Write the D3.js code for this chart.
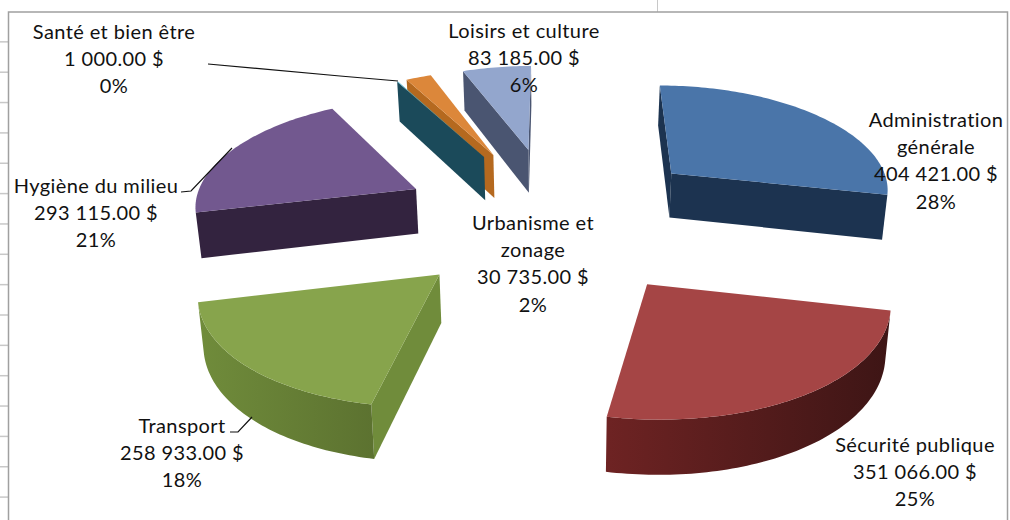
<!DOCTYPE html>
<html>
<head>
<meta charset="utf-8">
<script src="https://cdn.jsdelivr.net/npm/d3@7"></script>
<style>
  html, body { margin: 0; padding: 0; background: #fff; overflow: hidden; }
  text { font-family: Lato, "Open Sans", sans-serif; fill: #111; }
</style>
</head>
<body>
<div id="chart"></div>
<script>
// Data
const categories = ["Administration générale", "Sécurité publique", "Transport", "Hygiène du milieu", "Santé et bien être", "Urbanisme et zonage", "Loisirs et culture"];
const amounts = [404421, 351066, 258933, 293115, 1000, 30735, 83185];

// Colours, same order as categories
const topColors = ["#4a75a9", "#a54545", "#87a44c", "#72588f", "#4bacc6", "#dc873a", "#93a6cd"];
const wallColors = [["#1c3350", "#1c3350"], ["#6e2323", "#3d1515"], ["#708c3b", "#5c7230"], ["#33233f", "#33233f"], ["#1b4a5a", "#1b4a5a"], ["#b5691f", "#b5691f"], ["#4a5571", "#4a5571"]];
const sideColors = ["#1c3350", "#5a1d1d", "#708c3b", "#33233f", "#1b4a5a", "#b5691f", "#4a5571"];

// Label layout, same order as categories: wrapped name, centre x, first baseline
const labelLines = [["Administration", "générale"], ["Sécurité publique"], ["Transport"], ["Hygiène du milieu"], ["Santé et bien être"], ["Urbanisme et", "zonage"], ["Loisirs et culture"]];
const labelX = [936, 915, 182, 96, 114, 533, 524];
const labelY = [127, 452, 433, 193, 39, 230, 38];
const leaders = [null, null, [[230, 432], [238, 432], [252, 417]], [[181, 192], [191, 191], [232, 148]], [[208, 64], [340, 76], [398, 81]], null, null];

const WIDTH = 1010, HEIGHT = 520;
const LINE_HEIGHT = 27.2;

// Projection of the pie plane, fitted on the picture
const CX = 555, CY = 218, SCALE_X = 224, SCALE_Y = 106, PERSP_X = 0.115, PERSP_Y = 0.105, THICK = 46, BOTTOM_SHRINK = 0.984;
const EXPLODE = 0.7;

function project(u, v, bottom) {
  const wx = 1 - PERSP_X * v;
  const wy = 1 - PERSP_Y * v;
  const k = bottom ? BOTTOM_SHRINK : 1;
  return [CX + k * SCALE_X * u / wx, CY + SCALE_Y * v / wy + (bottom ? THICK / wy : 0)];
}

function shoelace(pts) {
  let sum = 0;
  pts.forEach((p, i) => {
    const q = pts[(i + 1) % pts.length];
    sum += p[0] * q[1] - q[0] * p[1];
  });
  return sum;
}

const svg = d3.select("#chart").append("svg")
  .attr("width", WIDTH)
  .attr("height", HEIGHT);

// Worksheet behind the chart
const rows = d3.range(1, 17).map(i => 11.5 + i * 30.35);
svg.selectAll("line.row").data(rows).join("line")
  .attr("class", "row")
  .attr("x1", 0).attr("x2", 9)
  .attr("y1", d => d).attr("y2", d => d)
  .attr("stroke", "#c8c8c8")
  .attr("stroke-width", 1.5);
svg.append("line")
  .attr("x1", 657.5).attr("x2", 657.5)
  .attr("y1", 0).attr("y2", 12)
  .attr("stroke", "#c8c8c8");
// frame runs off the bottom of the window
svg.append("rect")
  .attr("x", 8.5).attr("y", 12)
  .attr("width", 999).attr("height", 520)
  .attr("fill", "#fff")
  .attr("stroke", "#a0a0a0")
  .attr("stroke-width", 1.5);

const pie = d3.pie().sort(null).startAngle(0).endAngle(2 * Math.PI);
const arcs = pie(amounts).map((d, i) => {
  const mid = (d.startAngle + d.endAngle) / 2;
  const ou = EXPLODE * Math.sin(mid);
  const ov = -EXPLODE * Math.cos(mid);
  const steps = Math.max(2, Math.ceil((d.endAngle - d.startAngle) / 0.02));
  const rim = d3.range(steps + 1).map(s => {
    const a = d.startAngle + (d.endAngle - d.startAngle) * s / steps;
    return [ou + Math.sin(a), ov - Math.cos(a)];
  });
  return {index: i, apex: [ou, ov], rim: rim};
});

const defs = svg.append("defs");
const line = d3.line();
const flat = (c, bottom) => project(c[0], c[1], bottom);
const quad = (a, b) => [flat(a), flat(b), flat(b, true), flat(a, true)];

// Back to front
const ordered = arcs.slice().sort((a, b) => a.apex[1] - b.apex[1]);

const slices = svg.selectAll("g.slice").data(ordered).join("g").attr("class", "slice");

slices.each(function(d) {
  const g = d3.select(this);
  const i = d.index;
  const first = d.rim[0], last = d.rim[d.rim.length - 1];

  // Flat side walls
  [[d.apex, first], [last, d.apex]].forEach(pair => {
    const pts = quad(pair[0], pair[1]);
    if (shoelace(pts) < 0) {
      g.append("path").attr("d", line(pts) + "Z").attr("fill", sideColors[i]);
    }
  });

  // Curved wall, only the part that faces the viewer
  const visible = d.rim.filter((p, k) => {
    const next = d.rim[k + 1], prev = d.rim[k - 1];
    return (next && shoelace(quad(p, next)) < 0) || (prev && shoelace(quad(prev, p)) < 0);
  });
  if (visible.length > 1) {
    const gradId = "wall" + i;
    const grad = defs.append("linearGradient").attr("id", gradId);
    grad.append("stop").attr("offset", "0%").attr("stop-color", wallColors[i][0]);
    grad.append("stop").attr("offset", "100%").attr("stop-color", wallColors[i][1]);
    const tops = visible.map(p => flat(p));
    const bottoms = visible.map(p => flat(p, true)).reverse();
    g.append("path")
      .attr("d", line(tops.concat(bottoms)) + "Z")
      .attr("fill", `url(#${gradId})`);
  }

  // Top face
  const face = [flat(d.apex)].concat(d.rim.map(p => flat(p)));
  g.append("path").attr("d", line(face) + "Z").attr("fill", topColors[i]);
});

// Leader lines
svg.selectAll("path.leader").data(leaders.filter(d => d)).join("path")
  .attr("class", "leader")
  .attr("d", d => line(d))
  .attr("fill", "none")
  .attr("stroke", "#111")
  .attr("stroke-width", 1.2);

// Labels
const total = d3.sum(amounts);
const money = d3.formatLocale({decimal: ".", thousands: "\u00a0", grouping: [3], currency: ["", "\u00a0$"]}).format("$,.2f");

const labels = svg.selectAll("text.label").data(categories).join("text")
  .attr("class", "label")
  .attr("text-anchor", "middle")
  .attr("font-size", 20)
  .attr("letter-spacing", 0.4);

labels.each(function(name, i) {
  const lines = labelLines[i].concat([money(amounts[i]), Math.round(amounts[i] / total * 100) + "%"]);
  d3.select(this).selectAll("tspan").data(lines).join("tspan")
    .attr("x", labelX[i])
    .attr("y", (d, k) => labelY[i] + k * LINE_HEIGHT)
    .text(d => d);
});
</script>
</body>
</html>
